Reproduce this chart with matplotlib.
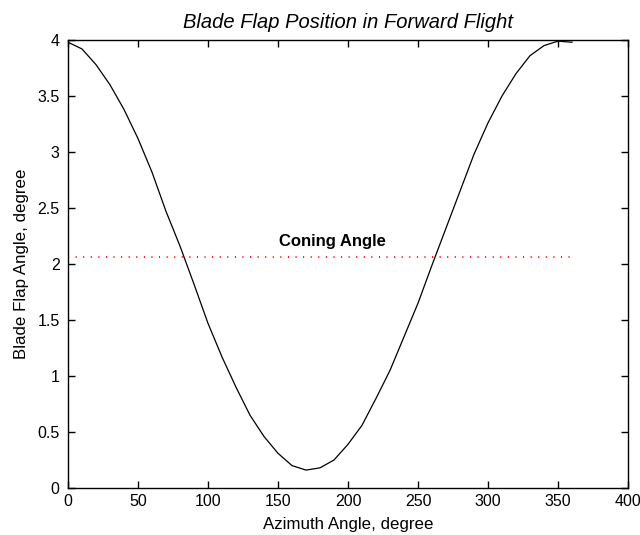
import matplotlib
matplotlib.use("Agg")
import matplotlib.pyplot as plt

azimuth = [0, 10, 20, 30, 40, 50, 60, 70, 80, 90, 100, 110, 120, 130, 140, 150, 160,
           170, 180, 190, 200, 210, 220, 230, 240, 250, 260, 270, 280, 290, 300, 310,
           320, 330, 340, 350, 360]
flap = [3.98, 3.92, 3.78, 3.60, 3.38, 3.12, 2.82, 2.47, 2.16, 1.82, 1.47, 1.17, 0.90,
        0.65, 0.46, 0.31, 0.20, 0.16, 0.18, 0.25, 0.39, 0.56, 0.80, 1.05, 1.35, 1.65,
        1.99, 2.32, 2.65, 2.98, 3.26, 3.50, 3.70, 3.86, 3.95, 3.99, 3.98]
coning_x = [0, 360]
coning_val = 2.06
xticks = [0, 50, 100, 150, 200, 250, 300, 350, 400]
yticks = [0, 0.5, 1, 1.5, 2, 2.5, 3, 3.5, 4]
ytick_labels = ["0", "0.5", "1", "1.5", "2", "2.5", "3", "3.5", "4"]

plt.rcParams['font.family'] = ['Liberation Sans', 'DejaVu Sans']

fig = plt.figure(figsize=(6.4, 5.35), dpi=100)
ax = fig.add_axes([68/640, 47/535, 560/640, 448/535])

ax.plot(azimuth, flap, color='black', lw=0.9)
ax.plot(coning_x, [coning_val, coning_val], color='red', lw=1.3,
        linestyle=(0, (0.6, 3.6)))
ax.text(189, 2.2, "Coning Angle", fontsize=12, fontweight='bold',
        ha='center', va='center')

ax.set_xlim(0, 400)
ax.set_ylim(0, 4)
ax.set_xticks(xticks)
ax.set_yticks(yticks)
ax.set_yticklabels(ytick_labels)
ax.tick_params(direction='in', top=True, right=True, length=5, width=1,
               labelsize=11.5)
ax.tick_params(axis='x', pad=4)
ax.tick_params(axis='y', pad=6)
for s in ax.spines.values():
    s.set_linewidth(1.0)

ax.set_xlabel("Azimuth Angle, degree", fontsize=12.2, labelpad=6)
ax.set_ylabel("Blade Flap Angle, degree", fontsize=12.2, labelpad=6)
ax.set_title("Blade Flap Position in Forward Flight", fontsize=14.5,
             style='italic', pad=9)

fig.savefig("out.png", dpi=100)
